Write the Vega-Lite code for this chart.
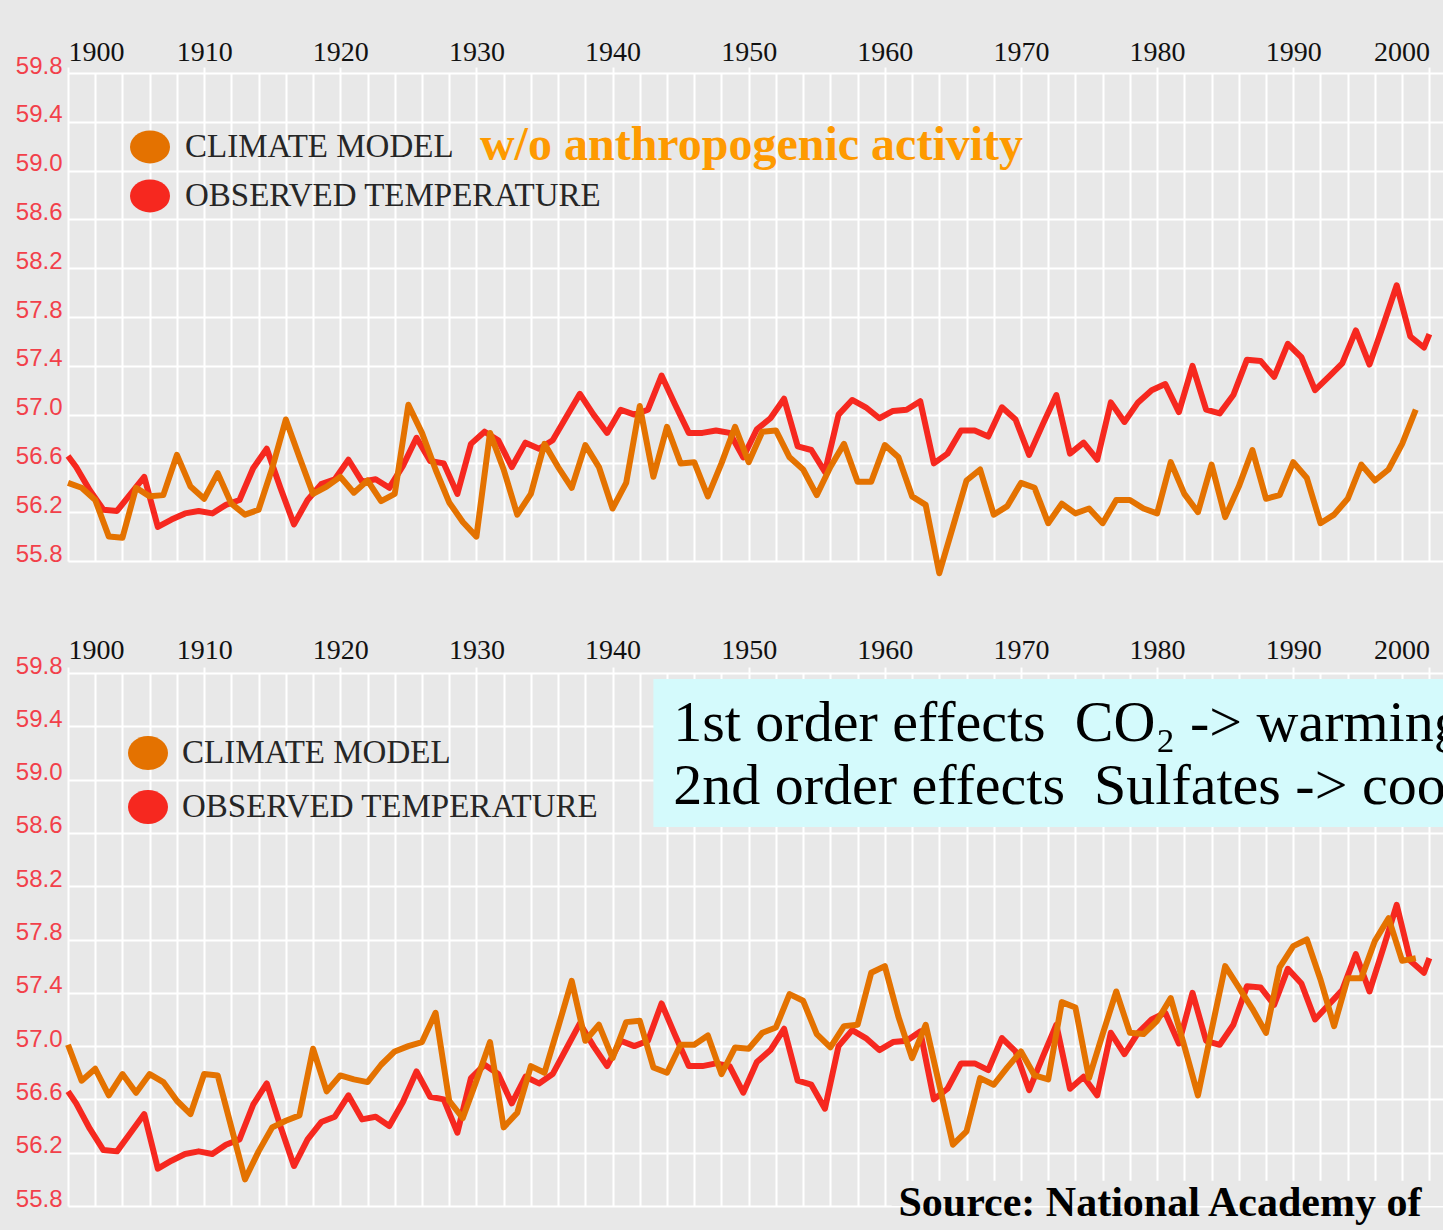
{
  "$schema": "https://vega.github.io/schema/vega-lite/v6.json",
  "background": "#e8e8e8",
  "padding": {"left": 12, "top": 33, "right": 0, "bottom": 7},
  "spacing": 56,
  "datasets": {
    "obs": [
      {"year": 1900.0, "temp": 56.66, "series": "OBSERVED TEMPERATURE"},
      {"year": 1900.6, "temp": 56.57, "series": "OBSERVED TEMPERATURE"},
      {"year": 1901.6, "temp": 56.38, "series": "OBSERVED TEMPERATURE"},
      {"year": 1902.6, "temp": 56.22, "series": "OBSERVED TEMPERATURE"},
      {"year": 1903.6, "temp": 56.21, "series": "OBSERVED TEMPERATURE"},
      {"year": 1904.6, "temp": 56.35, "series": "OBSERVED TEMPERATURE"},
      {"year": 1905.6, "temp": 56.49, "series": "OBSERVED TEMPERATURE"},
      {"year": 1906.6, "temp": 56.08, "series": "OBSERVED TEMPERATURE"},
      {"year": 1907.6, "temp": 56.14, "series": "OBSERVED TEMPERATURE"},
      {"year": 1908.6, "temp": 56.19, "series": "OBSERVED TEMPERATURE"},
      {"year": 1909.6, "temp": 56.21, "series": "OBSERVED TEMPERATURE"},
      {"year": 1910.6, "temp": 56.19, "series": "OBSERVED TEMPERATURE"},
      {"year": 1911.6, "temp": 56.26, "series": "OBSERVED TEMPERATURE"},
      {"year": 1912.6, "temp": 56.30, "series": "OBSERVED TEMPERATURE"},
      {"year": 1913.6, "temp": 56.56, "series": "OBSERVED TEMPERATURE"},
      {"year": 1914.6, "temp": 56.72, "series": "OBSERVED TEMPERATURE"},
      {"year": 1915.6, "temp": 56.40, "series": "OBSERVED TEMPERATURE"},
      {"year": 1916.6, "temp": 56.10, "series": "OBSERVED TEMPERATURE"},
      {"year": 1917.6, "temp": 56.30, "series": "OBSERVED TEMPERATURE"},
      {"year": 1918.6, "temp": 56.43, "series": "OBSERVED TEMPERATURE"},
      {"year": 1919.6, "temp": 56.47, "series": "OBSERVED TEMPERATURE"},
      {"year": 1920.6, "temp": 56.63, "series": "OBSERVED TEMPERATURE"},
      {"year": 1921.6, "temp": 56.45, "series": "OBSERVED TEMPERATURE"},
      {"year": 1922.6, "temp": 56.47, "series": "OBSERVED TEMPERATURE"},
      {"year": 1923.6, "temp": 56.40, "series": "OBSERVED TEMPERATURE"},
      {"year": 1924.6, "temp": 56.58, "series": "OBSERVED TEMPERATURE"},
      {"year": 1925.6, "temp": 56.81, "series": "OBSERVED TEMPERATURE"},
      {"year": 1926.6, "temp": 56.62, "series": "OBSERVED TEMPERATURE"},
      {"year": 1927.6, "temp": 56.60, "series": "OBSERVED TEMPERATURE"},
      {"year": 1928.6, "temp": 56.35, "series": "OBSERVED TEMPERATURE"},
      {"year": 1929.6, "temp": 56.76, "series": "OBSERVED TEMPERATURE"},
      {"year": 1930.6, "temp": 56.86, "series": "OBSERVED TEMPERATURE"},
      {"year": 1931.6, "temp": 56.79, "series": "OBSERVED TEMPERATURE"},
      {"year": 1932.6, "temp": 56.57, "series": "OBSERVED TEMPERATURE"},
      {"year": 1933.6, "temp": 56.77, "series": "OBSERVED TEMPERATURE"},
      {"year": 1934.6, "temp": 56.72, "series": "OBSERVED TEMPERATURE"},
      {"year": 1935.6, "temp": 56.79, "series": "OBSERVED TEMPERATURE"},
      {"year": 1936.6, "temp": 56.98, "series": "OBSERVED TEMPERATURE"},
      {"year": 1937.6, "temp": 57.17, "series": "OBSERVED TEMPERATURE"},
      {"year": 1938.6, "temp": 57.00, "series": "OBSERVED TEMPERATURE"},
      {"year": 1939.6, "temp": 56.85, "series": "OBSERVED TEMPERATURE"},
      {"year": 1940.6, "temp": 57.04, "series": "OBSERVED TEMPERATURE"},
      {"year": 1941.6, "temp": 57.00, "series": "OBSERVED TEMPERATURE"},
      {"year": 1942.6, "temp": 57.04, "series": "OBSERVED TEMPERATURE"},
      {"year": 1943.6, "temp": 57.32, "series": "OBSERVED TEMPERATURE"},
      {"year": 1944.6, "temp": 57.08, "series": "OBSERVED TEMPERATURE"},
      {"year": 1945.6, "temp": 56.85, "series": "OBSERVED TEMPERATURE"},
      {"year": 1946.6, "temp": 56.85, "series": "OBSERVED TEMPERATURE"},
      {"year": 1947.6, "temp": 56.87, "series": "OBSERVED TEMPERATURE"},
      {"year": 1948.6, "temp": 56.85, "series": "OBSERVED TEMPERATURE"},
      {"year": 1949.6, "temp": 56.65, "series": "OBSERVED TEMPERATURE"},
      {"year": 1950.6, "temp": 56.88, "series": "OBSERVED TEMPERATURE"},
      {"year": 1951.6, "temp": 56.97, "series": "OBSERVED TEMPERATURE"},
      {"year": 1952.6, "temp": 57.13, "series": "OBSERVED TEMPERATURE"},
      {"year": 1953.6, "temp": 56.74, "series": "OBSERVED TEMPERATURE"},
      {"year": 1954.6, "temp": 56.71, "series": "OBSERVED TEMPERATURE"},
      {"year": 1955.6, "temp": 56.53, "series": "OBSERVED TEMPERATURE"},
      {"year": 1956.6, "temp": 57.00, "series": "OBSERVED TEMPERATURE"},
      {"year": 1957.6, "temp": 57.12, "series": "OBSERVED TEMPERATURE"},
      {"year": 1958.6, "temp": 57.06, "series": "OBSERVED TEMPERATURE"},
      {"year": 1959.6, "temp": 56.97, "series": "OBSERVED TEMPERATURE"},
      {"year": 1960.6, "temp": 57.03, "series": "OBSERVED TEMPERATURE"},
      {"year": 1961.6, "temp": 57.04, "series": "OBSERVED TEMPERATURE"},
      {"year": 1962.6, "temp": 57.11, "series": "OBSERVED TEMPERATURE"},
      {"year": 1963.6, "temp": 56.60, "series": "OBSERVED TEMPERATURE"},
      {"year": 1964.6, "temp": 56.68, "series": "OBSERVED TEMPERATURE"},
      {"year": 1965.6, "temp": 56.87, "series": "OBSERVED TEMPERATURE"},
      {"year": 1966.6, "temp": 56.87, "series": "OBSERVED TEMPERATURE"},
      {"year": 1967.6, "temp": 56.82, "series": "OBSERVED TEMPERATURE"},
      {"year": 1968.6, "temp": 57.06, "series": "OBSERVED TEMPERATURE"},
      {"year": 1969.6, "temp": 56.96, "series": "OBSERVED TEMPERATURE"},
      {"year": 1970.6, "temp": 56.67, "series": "OBSERVED TEMPERATURE"},
      {"year": 1971.6, "temp": 56.92, "series": "OBSERVED TEMPERATURE"},
      {"year": 1972.6, "temp": 57.16, "series": "OBSERVED TEMPERATURE"},
      {"year": 1973.6, "temp": 56.68, "series": "OBSERVED TEMPERATURE"},
      {"year": 1974.6, "temp": 56.77, "series": "OBSERVED TEMPERATURE"},
      {"year": 1975.6, "temp": 56.63, "series": "OBSERVED TEMPERATURE"},
      {"year": 1976.6, "temp": 57.10, "series": "OBSERVED TEMPERATURE"},
      {"year": 1977.6, "temp": 56.94, "series": "OBSERVED TEMPERATURE"},
      {"year": 1978.6, "temp": 57.10, "series": "OBSERVED TEMPERATURE"},
      {"year": 1979.6, "temp": 57.20, "series": "OBSERVED TEMPERATURE"},
      {"year": 1980.6, "temp": 57.25, "series": "OBSERVED TEMPERATURE"},
      {"year": 1981.6, "temp": 57.02, "series": "OBSERVED TEMPERATURE"},
      {"year": 1982.6, "temp": 57.40, "series": "OBSERVED TEMPERATURE"},
      {"year": 1983.6, "temp": 57.04, "series": "OBSERVED TEMPERATURE"},
      {"year": 1984.6, "temp": 57.01, "series": "OBSERVED TEMPERATURE"},
      {"year": 1985.6, "temp": 57.16, "series": "OBSERVED TEMPERATURE"},
      {"year": 1986.6, "temp": 57.45, "series": "OBSERVED TEMPERATURE"},
      {"year": 1987.6, "temp": 57.44, "series": "OBSERVED TEMPERATURE"},
      {"year": 1988.6, "temp": 57.31, "series": "OBSERVED TEMPERATURE"},
      {"year": 1989.6, "temp": 57.58, "series": "OBSERVED TEMPERATURE"},
      {"year": 1990.6, "temp": 57.47, "series": "OBSERVED TEMPERATURE"},
      {"year": 1991.6, "temp": 57.20, "series": "OBSERVED TEMPERATURE"},
      {"year": 1992.6, "temp": 57.31, "series": "OBSERVED TEMPERATURE"},
      {"year": 1993.6, "temp": 57.42, "series": "OBSERVED TEMPERATURE"},
      {"year": 1994.6, "temp": 57.69, "series": "OBSERVED TEMPERATURE"},
      {"year": 1995.6, "temp": 57.41, "series": "OBSERVED TEMPERATURE"},
      {"year": 1996.6, "temp": 57.73, "series": "OBSERVED TEMPERATURE"},
      {"year": 1997.6, "temp": 58.06, "series": "OBSERVED TEMPERATURE"},
      {"year": 1998.6, "temp": 57.64, "series": "OBSERVED TEMPERATURE"},
      {"year": 1999.6, "temp": 57.55, "series": "OBSERVED TEMPERATURE"},
      {"year": 2000.0, "temp": 57.66, "series": "OBSERVED TEMPERATURE"}
    ],
    "natural": [
      {"year": 1900, "temp": 56.44, "series": "CLIMATE MODEL"},
      {"year": 1901, "temp": 56.40, "series": "CLIMATE MODEL"},
      {"year": 1902, "temp": 56.30, "series": "CLIMATE MODEL"},
      {"year": 1903, "temp": 56.00, "series": "CLIMATE MODEL"},
      {"year": 1904, "temp": 55.99, "series": "CLIMATE MODEL"},
      {"year": 1905, "temp": 56.40, "series": "CLIMATE MODEL"},
      {"year": 1906, "temp": 56.33, "series": "CLIMATE MODEL"},
      {"year": 1907, "temp": 56.34, "series": "CLIMATE MODEL"},
      {"year": 1908, "temp": 56.67, "series": "CLIMATE MODEL"},
      {"year": 1909, "temp": 56.41, "series": "CLIMATE MODEL"},
      {"year": 1910, "temp": 56.31, "series": "CLIMATE MODEL"},
      {"year": 1911, "temp": 56.52, "series": "CLIMATE MODEL"},
      {"year": 1912, "temp": 56.27, "series": "CLIMATE MODEL"},
      {"year": 1913, "temp": 56.18, "series": "CLIMATE MODEL"},
      {"year": 1914, "temp": 56.22, "series": "CLIMATE MODEL"},
      {"year": 1915, "temp": 56.56, "series": "CLIMATE MODEL"},
      {"year": 1916, "temp": 56.96, "series": "CLIMATE MODEL"},
      {"year": 1917, "temp": 56.65, "series": "CLIMATE MODEL"},
      {"year": 1918, "temp": 56.35, "series": "CLIMATE MODEL"},
      {"year": 1919, "temp": 56.41, "series": "CLIMATE MODEL"},
      {"year": 1920, "temp": 56.49, "series": "CLIMATE MODEL"},
      {"year": 1921, "temp": 56.36, "series": "CLIMATE MODEL"},
      {"year": 1922, "temp": 56.46, "series": "CLIMATE MODEL"},
      {"year": 1923, "temp": 56.29, "series": "CLIMATE MODEL"},
      {"year": 1924, "temp": 56.35, "series": "CLIMATE MODEL"},
      {"year": 1925, "temp": 57.08, "series": "CLIMATE MODEL"},
      {"year": 1926, "temp": 56.85, "series": "CLIMATE MODEL"},
      {"year": 1927, "temp": 56.55, "series": "CLIMATE MODEL"},
      {"year": 1928, "temp": 56.28, "series": "CLIMATE MODEL"},
      {"year": 1929, "temp": 56.12, "series": "CLIMATE MODEL"},
      {"year": 1930, "temp": 56.00, "series": "CLIMATE MODEL"},
      {"year": 1931, "temp": 56.85, "series": "CLIMATE MODEL"},
      {"year": 1932, "temp": 56.55, "series": "CLIMATE MODEL"},
      {"year": 1933, "temp": 56.18, "series": "CLIMATE MODEL"},
      {"year": 1934, "temp": 56.35, "series": "CLIMATE MODEL"},
      {"year": 1935, "temp": 56.76, "series": "CLIMATE MODEL"},
      {"year": 1936, "temp": 56.57, "series": "CLIMATE MODEL"},
      {"year": 1937, "temp": 56.40, "series": "CLIMATE MODEL"},
      {"year": 1938, "temp": 56.75, "series": "CLIMATE MODEL"},
      {"year": 1939, "temp": 56.57, "series": "CLIMATE MODEL"},
      {"year": 1940, "temp": 56.23, "series": "CLIMATE MODEL"},
      {"year": 1941, "temp": 56.44, "series": "CLIMATE MODEL"},
      {"year": 1942, "temp": 57.07, "series": "CLIMATE MODEL"},
      {"year": 1943, "temp": 56.49, "series": "CLIMATE MODEL"},
      {"year": 1944, "temp": 56.90, "series": "CLIMATE MODEL"},
      {"year": 1945, "temp": 56.60, "series": "CLIMATE MODEL"},
      {"year": 1946, "temp": 56.61, "series": "CLIMATE MODEL"},
      {"year": 1947, "temp": 56.33, "series": "CLIMATE MODEL"},
      {"year": 1948, "temp": 56.60, "series": "CLIMATE MODEL"},
      {"year": 1949, "temp": 56.90, "series": "CLIMATE MODEL"},
      {"year": 1950, "temp": 56.61, "series": "CLIMATE MODEL"},
      {"year": 1951, "temp": 56.86, "series": "CLIMATE MODEL"},
      {"year": 1952, "temp": 56.87, "series": "CLIMATE MODEL"},
      {"year": 1953, "temp": 56.65, "series": "CLIMATE MODEL"},
      {"year": 1954, "temp": 56.55, "series": "CLIMATE MODEL"},
      {"year": 1955, "temp": 56.34, "series": "CLIMATE MODEL"},
      {"year": 1956, "temp": 56.57, "series": "CLIMATE MODEL"},
      {"year": 1957, "temp": 56.76, "series": "CLIMATE MODEL"},
      {"year": 1958, "temp": 56.45, "series": "CLIMATE MODEL"},
      {"year": 1959, "temp": 56.45, "series": "CLIMATE MODEL"},
      {"year": 1960, "temp": 56.75, "series": "CLIMATE MODEL"},
      {"year": 1961, "temp": 56.65, "series": "CLIMATE MODEL"},
      {"year": 1962, "temp": 56.33, "series": "CLIMATE MODEL"},
      {"year": 1963, "temp": 56.26, "series": "CLIMATE MODEL"},
      {"year": 1964, "temp": 55.70, "series": "CLIMATE MODEL"},
      {"year": 1965, "temp": 56.08, "series": "CLIMATE MODEL"},
      {"year": 1966, "temp": 56.46, "series": "CLIMATE MODEL"},
      {"year": 1967, "temp": 56.55, "series": "CLIMATE MODEL"},
      {"year": 1968, "temp": 56.18, "series": "CLIMATE MODEL"},
      {"year": 1969, "temp": 56.25, "series": "CLIMATE MODEL"},
      {"year": 1970, "temp": 56.44, "series": "CLIMATE MODEL"},
      {"year": 1971, "temp": 56.40, "series": "CLIMATE MODEL"},
      {"year": 1972, "temp": 56.11, "series": "CLIMATE MODEL"},
      {"year": 1973, "temp": 56.27, "series": "CLIMATE MODEL"},
      {"year": 1974, "temp": 56.19, "series": "CLIMATE MODEL"},
      {"year": 1975, "temp": 56.23, "series": "CLIMATE MODEL"},
      {"year": 1976, "temp": 56.11, "series": "CLIMATE MODEL"},
      {"year": 1977, "temp": 56.30, "series": "CLIMATE MODEL"},
      {"year": 1978, "temp": 56.30, "series": "CLIMATE MODEL"},
      {"year": 1979, "temp": 56.23, "series": "CLIMATE MODEL"},
      {"year": 1980, "temp": 56.19, "series": "CLIMATE MODEL"},
      {"year": 1981, "temp": 56.61, "series": "CLIMATE MODEL"},
      {"year": 1982, "temp": 56.35, "series": "CLIMATE MODEL"},
      {"year": 1983, "temp": 56.20, "series": "CLIMATE MODEL"},
      {"year": 1984, "temp": 56.59, "series": "CLIMATE MODEL"},
      {"year": 1985, "temp": 56.16, "series": "CLIMATE MODEL"},
      {"year": 1986, "temp": 56.41, "series": "CLIMATE MODEL"},
      {"year": 1987, "temp": 56.71, "series": "CLIMATE MODEL"},
      {"year": 1988, "temp": 56.31, "series": "CLIMATE MODEL"},
      {"year": 1989, "temp": 56.34, "series": "CLIMATE MODEL"},
      {"year": 1990, "temp": 56.61, "series": "CLIMATE MODEL"},
      {"year": 1991, "temp": 56.48, "series": "CLIMATE MODEL"},
      {"year": 1992, "temp": 56.11, "series": "CLIMATE MODEL"},
      {"year": 1993, "temp": 56.18, "series": "CLIMATE MODEL"},
      {"year": 1994, "temp": 56.31, "series": "CLIMATE MODEL"},
      {"year": 1995, "temp": 56.59, "series": "CLIMATE MODEL"},
      {"year": 1996, "temp": 56.46, "series": "CLIMATE MODEL"},
      {"year": 1997, "temp": 56.55, "series": "CLIMATE MODEL"},
      {"year": 1998, "temp": 56.76, "series": "CLIMATE MODEL"},
      {"year": 1999, "temp": 57.04, "series": "CLIMATE MODEL"}
    ],
    "combined": [
      {"year": 1900, "temp": 57.01, "series": "CLIMATE MODEL"},
      {"year": 1901, "temp": 56.74, "series": "CLIMATE MODEL"},
      {"year": 1902, "temp": 56.83, "series": "CLIMATE MODEL"},
      {"year": 1903, "temp": 56.63, "series": "CLIMATE MODEL"},
      {"year": 1904, "temp": 56.79, "series": "CLIMATE MODEL"},
      {"year": 1905, "temp": 56.65, "series": "CLIMATE MODEL"},
      {"year": 1906, "temp": 56.79, "series": "CLIMATE MODEL"},
      {"year": 1907, "temp": 56.73, "series": "CLIMATE MODEL"},
      {"year": 1908, "temp": 56.59, "series": "CLIMATE MODEL"},
      {"year": 1909, "temp": 56.49, "series": "CLIMATE MODEL"},
      {"year": 1910, "temp": 56.79, "series": "CLIMATE MODEL"},
      {"year": 1911, "temp": 56.78, "series": "CLIMATE MODEL"},
      {"year": 1912, "temp": 56.39, "series": "CLIMATE MODEL"},
      {"year": 1913, "temp": 56.00, "series": "CLIMATE MODEL"},
      {"year": 1914, "temp": 56.21, "series": "CLIMATE MODEL"},
      {"year": 1915, "temp": 56.39, "series": "CLIMATE MODEL"},
      {"year": 1916, "temp": 56.44, "series": "CLIMATE MODEL"},
      {"year": 1917, "temp": 56.48, "series": "CLIMATE MODEL"},
      {"year": 1918, "temp": 56.98, "series": "CLIMATE MODEL"},
      {"year": 1919, "temp": 56.66, "series": "CLIMATE MODEL"},
      {"year": 1920, "temp": 56.78, "series": "CLIMATE MODEL"},
      {"year": 1921, "temp": 56.75, "series": "CLIMATE MODEL"},
      {"year": 1922, "temp": 56.73, "series": "CLIMATE MODEL"},
      {"year": 1923, "temp": 56.86, "series": "CLIMATE MODEL"},
      {"year": 1924, "temp": 56.96, "series": "CLIMATE MODEL"},
      {"year": 1925, "temp": 57.00, "series": "CLIMATE MODEL"},
      {"year": 1926, "temp": 57.03, "series": "CLIMATE MODEL"},
      {"year": 1927, "temp": 57.25, "series": "CLIMATE MODEL"},
      {"year": 1928, "temp": 56.59, "series": "CLIMATE MODEL"},
      {"year": 1929, "temp": 56.46, "series": "CLIMATE MODEL"},
      {"year": 1930, "temp": 56.74, "series": "CLIMATE MODEL"},
      {"year": 1931, "temp": 57.03, "series": "CLIMATE MODEL"},
      {"year": 1932, "temp": 56.39, "series": "CLIMATE MODEL"},
      {"year": 1933, "temp": 56.50, "series": "CLIMATE MODEL"},
      {"year": 1934, "temp": 56.85, "series": "CLIMATE MODEL"},
      {"year": 1935, "temp": 56.80, "series": "CLIMATE MODEL"},
      {"year": 1936, "temp": 57.14, "series": "CLIMATE MODEL"},
      {"year": 1937, "temp": 57.49, "series": "CLIMATE MODEL"},
      {"year": 1938, "temp": 57.04, "series": "CLIMATE MODEL"},
      {"year": 1939, "temp": 57.16, "series": "CLIMATE MODEL"},
      {"year": 1940, "temp": 56.91, "series": "CLIMATE MODEL"},
      {"year": 1941, "temp": 57.18, "series": "CLIMATE MODEL"},
      {"year": 1942, "temp": 57.19, "series": "CLIMATE MODEL"},
      {"year": 1943, "temp": 56.84, "series": "CLIMATE MODEL"},
      {"year": 1944, "temp": 56.80, "series": "CLIMATE MODEL"},
      {"year": 1945, "temp": 57.01, "series": "CLIMATE MODEL"},
      {"year": 1946, "temp": 57.01, "series": "CLIMATE MODEL"},
      {"year": 1947, "temp": 57.08, "series": "CLIMATE MODEL"},
      {"year": 1948, "temp": 56.79, "series": "CLIMATE MODEL"},
      {"year": 1949, "temp": 56.99, "series": "CLIMATE MODEL"},
      {"year": 1950, "temp": 56.98, "series": "CLIMATE MODEL"},
      {"year": 1951, "temp": 57.10, "series": "CLIMATE MODEL"},
      {"year": 1952, "temp": 57.14, "series": "CLIMATE MODEL"},
      {"year": 1953, "temp": 57.39, "series": "CLIMATE MODEL"},
      {"year": 1954, "temp": 57.34, "series": "CLIMATE MODEL"},
      {"year": 1955, "temp": 57.09, "series": "CLIMATE MODEL"},
      {"year": 1956, "temp": 56.99, "series": "CLIMATE MODEL"},
      {"year": 1957, "temp": 57.15, "series": "CLIMATE MODEL"},
      {"year": 1958, "temp": 57.16, "series": "CLIMATE MODEL"},
      {"year": 1959, "temp": 57.55, "series": "CLIMATE MODEL"},
      {"year": 1960, "temp": 57.60, "series": "CLIMATE MODEL"},
      {"year": 1961, "temp": 57.22, "series": "CLIMATE MODEL"},
      {"year": 1962, "temp": 56.91, "series": "CLIMATE MODEL"},
      {"year": 1963, "temp": 57.16, "series": "CLIMATE MODEL"},
      {"year": 1964, "temp": 56.71, "series": "CLIMATE MODEL"},
      {"year": 1965, "temp": 56.26, "series": "CLIMATE MODEL"},
      {"year": 1966, "temp": 56.36, "series": "CLIMATE MODEL"},
      {"year": 1967, "temp": 56.76, "series": "CLIMATE MODEL"},
      {"year": 1968, "temp": 56.71, "series": "CLIMATE MODEL"},
      {"year": 1969, "temp": 56.84, "series": "CLIMATE MODEL"},
      {"year": 1970, "temp": 56.96, "series": "CLIMATE MODEL"},
      {"year": 1971, "temp": 56.78, "series": "CLIMATE MODEL"},
      {"year": 1972, "temp": 56.75, "series": "CLIMATE MODEL"},
      {"year": 1973, "temp": 57.33, "series": "CLIMATE MODEL"},
      {"year": 1974, "temp": 57.29, "series": "CLIMATE MODEL"},
      {"year": 1975, "temp": 56.76, "series": "CLIMATE MODEL"},
      {"year": 1976, "temp": 57.09, "series": "CLIMATE MODEL"},
      {"year": 1977, "temp": 57.41, "series": "CLIMATE MODEL"},
      {"year": 1978, "temp": 57.10, "series": "CLIMATE MODEL"},
      {"year": 1979, "temp": 57.09, "series": "CLIMATE MODEL"},
      {"year": 1980, "temp": 57.19, "series": "CLIMATE MODEL"},
      {"year": 1981, "temp": 57.36, "series": "CLIMATE MODEL"},
      {"year": 1982, "temp": 57.00, "series": "CLIMATE MODEL"},
      {"year": 1983, "temp": 56.63, "series": "CLIMATE MODEL"},
      {"year": 1984, "temp": 57.12, "series": "CLIMATE MODEL"},
      {"year": 1985, "temp": 57.60, "series": "CLIMATE MODEL"},
      {"year": 1986, "temp": 57.44, "series": "CLIMATE MODEL"},
      {"year": 1987, "temp": 57.28, "series": "CLIMATE MODEL"},
      {"year": 1988, "temp": 57.10, "series": "CLIMATE MODEL"},
      {"year": 1989, "temp": 57.59, "series": "CLIMATE MODEL"},
      {"year": 1990, "temp": 57.75, "series": "CLIMATE MODEL"},
      {"year": 1991, "temp": 57.80, "series": "CLIMATE MODEL"},
      {"year": 1992, "temp": 57.50, "series": "CLIMATE MODEL"},
      {"year": 1993, "temp": 57.15, "series": "CLIMATE MODEL"},
      {"year": 1994, "temp": 57.51, "series": "CLIMATE MODEL"},
      {"year": 1995, "temp": 57.51, "series": "CLIMATE MODEL"},
      {"year": 1996, "temp": 57.79, "series": "CLIMATE MODEL"},
      {"year": 1997, "temp": 57.96, "series": "CLIMATE MODEL"},
      {"year": 1998, "temp": 57.64, "series": "CLIMATE MODEL"},
      {"year": 1999, "temp": 57.66, "series": "CLIMATE MODEL"}
    ]
  },
  "vconcat": [
    {
      "width": 1375,
      "height": 488,
      "layer": [
        {
          "data": {"name": "obs"},
          "mark": {"type": "line", "clip": false, "strokeWidth": 6, "strokeJoin": "round"},
          "encoding": {
            "x": {"field": "year", "type": "quantitative", "scale": {"domain": [1900, 2001], "nice": false, "zero": false},
              "axis": {"orient": "top", "title": null, "values": [1900,1902,1904,1906,1908,1910,1912,1914,1916,1918,1920,1922,1924,1926,1928,1930,1932,1934,1936,1938,1940,1942,1944,1946,1948,1950,1952,1954,1956,1958,1960,1962,1964,1966,1968,1970,1972,1974,1976,1978,1980,1982,1984,1986,1988,1990,1992,1994,1996,1998,2000], "labelExpr": "datum.value % 10 === 0 ? format(datum.value, 'd') : ''", "grid": true, "gridColor": "#ffffff", "gridWidth": 2, "domain": false, "ticks": true, "tickSize": 6, "tickWidth": 2, "tickColor": {"condition": {"test": "datum.value % 10 === 0", "value": "#ffffff"}, "value": "rgba(0,0,0,0)"}, "labelFont": "Liberation Serif", "labelFontSize": 28, "labelColor": "#111111", "labelBaseline": "alphabetic", "labelPadding": 7, "labelFlush": 20, "labelOverlap": false, "minExtent": 40, "maxExtent": 40}},
            "y": {"field": "temp", "type": "quantitative", "scale": {"domain": [55.8, 59.8], "nice": false, "zero": false},
              "axis": {"title": null, "values": [55.8, 56.2, 56.6, 57.0, 57.4, 57.8, 58.2, 58.6, 59.0, 59.4, 59.8], "format": ".1f", "grid": true, "gridColor": "#ffffff", "gridWidth": 2, "domain": false, "ticks": false, "labelFont": "Liberation Sans", "labelFontSize": 24, "labelColor": "#f2404a", "labelBaseline": "alphabetic", "labelPadding": 6, "labelFlush": false, "labelOverlap": false, "minExtent": 56, "maxExtent": 56}},
            "color": {"field": "series", "type": "nominal",
              "scale": {"domain": ["CLIMATE MODEL", "OBSERVED TEMPERATURE"], "range": ["#e47200", "#f6281f"]},
              "legend": {"orient": "none", "legendX": 62, "legendY": 54, "title": null, "direction": "vertical",
                "symbolType": "M-1,0A1,0.82,0,1,0,1,0A1,0.82,0,1,0,-1,0Z", "symbolSize": 1600,
                "labelFont": "Liberation Serif", "labelFontSize": 33, "labelColor": "#262626", "labelOffset": 15, "labelLimit": 800,
                "rowPadding": 12, "padding": 0,
                "encode": {"symbols": {"update": {"fill": {"signal": "datum.value === 'CLIMATE MODEL' ? '#e47200' : '#f6281f'"}, "stroke": {"value": "transparent"}, "strokeWidth": {"value": 0}, "opacity": {"value": 1}}}}}}
          }
        },
        {
          "data": {"name": "natural"},
          "mark": {"type": "line", "clip": false, "strokeWidth": 6, "strokeJoin": "round"},
          "encoding": {
            "x": {"field": "year", "type": "quantitative",
              "axis": {"orient": "top", "title": null, "values": [1900,1902,1904,1906,1908,1910,1912,1914,1916,1918,1920,1922,1924,1926,1928,1930,1932,1934,1936,1938,1940,1942,1944,1946,1948,1950,1952,1954,1956,1958,1960,1962,1964,1966,1968,1970,1972,1974,1976,1978,1980,1982,1984,1986,1988,1990,1992,1994,1996,1998,2000], "labelExpr": "datum.value % 10 === 0 ? format(datum.value, 'd') : ''", "grid": true, "gridColor": "#ffffff", "gridWidth": 2, "domain": false, "ticks": true, "tickSize": 6, "tickWidth": 2, "tickColor": {"condition": {"test": "datum.value % 10 === 0", "value": "#ffffff"}, "value": "rgba(0,0,0,0)"}, "labelFont": "Liberation Serif", "labelFontSize": 28, "labelColor": "#111111", "labelBaseline": "alphabetic", "labelPadding": 7, "labelFlush": 20, "labelOverlap": false, "minExtent": 40, "maxExtent": 40}},
            "y": {"field": "temp", "type": "quantitative",
              "axis": {"title": null, "values": [55.8, 56.2, 56.6, 57.0, 57.4, 57.8, 58.2, 58.6, 59.0, 59.4, 59.8], "format": ".1f", "grid": true, "gridColor": "#ffffff", "gridWidth": 2, "domain": false, "ticks": false, "labelFont": "Liberation Sans", "labelFontSize": 24, "labelColor": "#f2404a", "labelBaseline": "alphabetic", "labelPadding": 6, "labelFlush": false, "labelOverlap": false, "minExtent": 56, "maxExtent": 56}},
            "color": {"field": "series", "type": "nominal"}
          }
        },
        {
          "data": {"values": [{"note": "w/o anthropogenic activity"}]},
          "mark": {"type": "text", "font": "Liberation Serif", "fontWeight": "bold", "fontSize": 48, "color": "#fe9a00", "align": "left", "baseline": "alphabetic"},
          "encoding": {
            "x": {"datum": 1930.26, "type": "quantitative",
              "axis": {"orient": "top", "title": null, "values": [1900,1902,1904,1906,1908,1910,1912,1914,1916,1918,1920,1922,1924,1926,1928,1930,1932,1934,1936,1938,1940,1942,1944,1946,1948,1950,1952,1954,1956,1958,1960,1962,1964,1966,1968,1970,1972,1974,1976,1978,1980,1982,1984,1986,1988,1990,1992,1994,1996,1998,2000], "labelExpr": "datum.value % 10 === 0 ? format(datum.value, 'd') : ''", "grid": true, "gridColor": "#ffffff", "gridWidth": 2, "domain": false, "ticks": true, "tickSize": 6, "tickWidth": 2, "tickColor": {"condition": {"test": "datum.value % 10 === 0", "value": "#ffffff"}, "value": "rgba(0,0,0,0)"}, "labelFont": "Liberation Serif", "labelFontSize": 28, "labelColor": "#111111", "labelBaseline": "alphabetic", "labelPadding": 7, "labelFlush": 20, "labelOverlap": false, "minExtent": 40, "maxExtent": 40}},
            "y": {"datum": 59.087, "type": "quantitative",
              "axis": {"title": null, "values": [55.8, 56.2, 56.6, 57.0, 57.4, 57.8, 58.2, 58.6, 59.0, 59.4, 59.8], "format": ".1f", "grid": true, "gridColor": "#ffffff", "gridWidth": 2, "domain": false, "ticks": false, "labelFont": "Liberation Sans", "labelFontSize": 24, "labelColor": "#f2404a", "labelBaseline": "alphabetic", "labelPadding": 6, "labelFlush": false, "labelOverlap": false, "minExtent": 56, "maxExtent": 56}},
            "text": {"field": "note", "type": "nominal"}}
        }
      ]
    },
    {
      "width": 1375,
      "height": 533,
      "layer": [
        {
          "data": {"values": [{"box": "co2"}]},
          "mark": {"type": "rect", "clip": true, "color": "#d4fafc"},
          "encoding": {
            "x": {"datum": 1943.0, "type": "quantitative",
              "axis": {"orient": "top", "title": null, "values": [1900,1902,1904,1906,1908,1910,1912,1914,1916,1918,1920,1922,1924,1926,1928,1930,1932,1934,1936,1938,1940,1942,1944,1946,1948,1950,1952,1954,1956,1958,1960,1962,1964,1966,1968,1970,1972,1974,1976,1978,1980,1982,1984,1986,1988,1990,1992,1994,1996,1998,2000], "labelExpr": "datum.value % 10 === 0 ? format(datum.value, 'd') : ''", "grid": true, "gridColor": "#ffffff", "gridWidth": 2, "domain": false, "ticks": true, "tickSize": 6, "tickWidth": 2, "tickColor": {"condition": {"test": "datum.value % 10 === 0", "value": "#ffffff"}, "value": "rgba(0,0,0,0)"}, "labelFont": "Liberation Serif", "labelFontSize": 28, "labelColor": "#111111", "labelBaseline": "alphabetic", "labelPadding": 9, "labelFlush": 20, "labelOverlap": false, "minExtent": 40, "maxExtent": 40}},
            "x2": {"datum": 2001},
            "y": {"datum": 59.755, "type": "quantitative",
              "axis": {"title": null, "values": [55.8, 56.2, 56.6, 57.0, 57.4, 57.8, 58.2, 58.6, 59.0, 59.4, 59.8], "format": ".1f", "grid": true, "gridColor": "#ffffff", "gridWidth": 2, "domain": false, "ticks": false, "labelFont": "Liberation Sans", "labelFontSize": 24, "labelColor": "#f2404a", "labelBaseline": "alphabetic", "labelPadding": 6, "labelFlush": false, "labelOverlap": false, "minExtent": 56, "maxExtent": 56}},
            "y2": {"datum": 58.644}}
        },
        {
          "data": {"values": [{"note": "1st order effects\u00a0 CO\u2082 -> warming"}]},
          "mark": {"type": "text", "clip": true, "font": "Liberation Serif", "fontSize": 58, "color": "#000000", "align": "left", "baseline": "alphabetic"},
          "encoding": {
            "x": {"datum": 1944.45, "type": "quantitative",
              "axis": {"orient": "top", "title": null, "values": [1900,1902,1904,1906,1908,1910,1912,1914,1916,1918,1920,1922,1924,1926,1928,1930,1932,1934,1936,1938,1940,1942,1944,1946,1948,1950,1952,1954,1956,1958,1960,1962,1964,1966,1968,1970,1972,1974,1976,1978,1980,1982,1984,1986,1988,1990,1992,1994,1996,1998,2000], "labelExpr": "datum.value % 10 === 0 ? format(datum.value, 'd') : ''", "grid": true, "gridColor": "#ffffff", "gridWidth": 2, "domain": false, "ticks": true, "tickSize": 6, "tickWidth": 2, "tickColor": {"condition": {"test": "datum.value % 10 === 0", "value": "#ffffff"}, "value": "rgba(0,0,0,0)"}, "labelFont": "Liberation Serif", "labelFontSize": 28, "labelColor": "#111111", "labelBaseline": "alphabetic", "labelPadding": 9, "labelFlush": 20, "labelOverlap": false, "minExtent": 40, "maxExtent": 40}},
            "y": {"datum": 59.29, "type": "quantitative",
              "axis": {"title": null, "values": [55.8, 56.2, 56.6, 57.0, 57.4, 57.8, 58.2, 58.6, 59.0, 59.4, 59.8], "format": ".1f", "grid": true, "gridColor": "#ffffff", "gridWidth": 2, "domain": false, "ticks": false, "labelFont": "Liberation Sans", "labelFontSize": 24, "labelColor": "#f2404a", "labelBaseline": "alphabetic", "labelPadding": 6, "labelFlush": false, "labelOverlap": false, "minExtent": 56, "maxExtent": 56}},
            "text": {"field": "note", "type": "nominal"}}
        },
        {
          "data": {"values": [{"note": "2nd order effects\u00a0 Sulfates -> cooling"}]},
          "mark": {"type": "text", "clip": true, "font": "Liberation Serif", "fontSize": 58, "color": "#000000", "align": "left", "baseline": "alphabetic"},
          "encoding": {
            "x": {"datum": 1944.45, "type": "quantitative",
              "axis": {"orient": "top", "title": null, "values": [1900,1902,1904,1906,1908,1910,1912,1914,1916,1918,1920,1922,1924,1926,1928,1930,1932,1934,1936,1938,1940,1942,1944,1946,1948,1950,1952,1954,1956,1958,1960,1962,1964,1966,1968,1970,1972,1974,1976,1978,1980,1982,1984,1986,1988,1990,1992,1994,1996,1998,2000], "labelExpr": "datum.value % 10 === 0 ? format(datum.value, 'd') : ''", "grid": true, "gridColor": "#ffffff", "gridWidth": 2, "domain": false, "ticks": true, "tickSize": 6, "tickWidth": 2, "tickColor": {"condition": {"test": "datum.value % 10 === 0", "value": "#ffffff"}, "value": "rgba(0,0,0,0)"}, "labelFont": "Liberation Serif", "labelFontSize": 28, "labelColor": "#111111", "labelBaseline": "alphabetic", "labelPadding": 9, "labelFlush": 20, "labelOverlap": false, "minExtent": 40, "maxExtent": 40}},
            "y": {"datum": 58.815, "type": "quantitative",
              "axis": {"title": null, "values": [55.8, 56.2, 56.6, 57.0, 57.4, 57.8, 58.2, 58.6, 59.0, 59.4, 59.8], "format": ".1f", "grid": true, "gridColor": "#ffffff", "gridWidth": 2, "domain": false, "ticks": false, "labelFont": "Liberation Sans", "labelFontSize": 24, "labelColor": "#f2404a", "labelBaseline": "alphabetic", "labelPadding": 6, "labelFlush": false, "labelOverlap": false, "minExtent": 56, "maxExtent": 56}},
            "text": {"field": "note", "type": "nominal"}}
        },
        {
          "data": {"values": [{"box": "source"}]},
          "mark": {"type": "rect", "clip": true, "color": "#e8e8e8"},
          "encoding": {
            "x": {"datum": 1960.5, "type": "quantitative",
              "axis": {"orient": "top", "title": null, "values": [1900,1902,1904,1906,1908,1910,1912,1914,1916,1918,1920,1922,1924,1926,1928,1930,1932,1934,1936,1938,1940,1942,1944,1946,1948,1950,1952,1954,1956,1958,1960,1962,1964,1966,1968,1970,1972,1974,1976,1978,1980,1982,1984,1986,1988,1990,1992,1994,1996,1998,2000], "labelExpr": "datum.value % 10 === 0 ? format(datum.value, 'd') : ''", "grid": true, "gridColor": "#ffffff", "gridWidth": 2, "domain": false, "ticks": true, "tickSize": 6, "tickWidth": 2, "tickColor": {"condition": {"test": "datum.value % 10 === 0", "value": "#ffffff"}, "value": "rgba(0,0,0,0)"}, "labelFont": "Liberation Serif", "labelFontSize": 28, "labelColor": "#111111", "labelBaseline": "alphabetic", "labelPadding": 9, "labelFlush": 20, "labelOverlap": false, "minExtent": 40, "maxExtent": 40}},
            "x2": {"datum": 2001},
            "y": {"datum": 55.99, "type": "quantitative",
              "axis": {"title": null, "values": [55.8, 56.2, 56.6, 57.0, 57.4, 57.8, 58.2, 58.6, 59.0, 59.4, 59.8], "format": ".1f", "grid": true, "gridColor": "#ffffff", "gridWidth": 2, "domain": false, "ticks": false, "labelFont": "Liberation Sans", "labelFontSize": 24, "labelColor": "#f2404a", "labelBaseline": "alphabetic", "labelPadding": 6, "labelFlush": false, "labelOverlap": false, "minExtent": 56, "maxExtent": 56}},
            "y2": {"datum": 55.6}}
        },
        {
          "data": {"name": "obs"},
          "mark": {"type": "line", "clip": false, "strokeWidth": 6, "strokeJoin": "round"},
          "encoding": {
            "x": {"field": "year", "type": "quantitative", "scale": {"domain": [1900, 2001], "nice": false, "zero": false},
              "axis": {"orient": "top", "title": null, "values": [1900,1902,1904,1906,1908,1910,1912,1914,1916,1918,1920,1922,1924,1926,1928,1930,1932,1934,1936,1938,1940,1942,1944,1946,1948,1950,1952,1954,1956,1958,1960,1962,1964,1966,1968,1970,1972,1974,1976,1978,1980,1982,1984,1986,1988,1990,1992,1994,1996,1998,2000], "labelExpr": "datum.value % 10 === 0 ? format(datum.value, 'd') : ''", "grid": true, "gridColor": "#ffffff", "gridWidth": 2, "domain": false, "ticks": true, "tickSize": 6, "tickWidth": 2, "tickColor": {"condition": {"test": "datum.value % 10 === 0", "value": "#ffffff"}, "value": "rgba(0,0,0,0)"}, "labelFont": "Liberation Serif", "labelFontSize": 28, "labelColor": "#111111", "labelBaseline": "alphabetic", "labelPadding": 9, "labelFlush": 20, "labelOverlap": false, "minExtent": 40, "maxExtent": 40}},
            "y": {"field": "temp", "type": "quantitative", "scale": {"domain": [55.8, 59.8], "nice": false, "zero": false},
              "axis": {"title": null, "values": [55.8, 56.2, 56.6, 57.0, 57.4, 57.8, 58.2, 58.6, 59.0, 59.4, 59.8], "format": ".1f", "grid": true, "gridColor": "#ffffff", "gridWidth": 2, "domain": false, "ticks": false, "labelFont": "Liberation Sans", "labelFontSize": 24, "labelColor": "#f2404a", "labelBaseline": "alphabetic", "labelPadding": 6, "labelFlush": false, "labelOverlap": false, "minExtent": 56, "maxExtent": 56}},
            "color": {"field": "series", "type": "nominal",
              "scale": {"domain": ["CLIMATE MODEL", "OBSERVED TEMPERATURE"], "range": ["#e47200", "#f6281f"]},
              "legend": {"orient": "none", "legendX": 60, "legendY": 60, "title": null, "direction": "vertical",
                "symbolType": "M-1,0A1,0.85,0,1,0,1,0A1,0.85,0,1,0,-1,0Z", "symbolSize": 1600,
                "labelFont": "Liberation Serif", "labelFontSize": 33, "labelColor": "#262626", "labelOffset": 14, "labelLimit": 800,
                "rowPadding": 17, "padding": 0,
                "encode": {"symbols": {"update": {"fill": {"signal": "datum.value === 'CLIMATE MODEL' ? '#e47200' : '#f6281f'"}, "stroke": {"value": "transparent"}, "strokeWidth": {"value": 0}, "opacity": {"value": 1}}}}}}
          }
        },
        {
          "data": {"name": "combined"},
          "mark": {"type": "line", "clip": false, "strokeWidth": 6, "strokeJoin": "round"},
          "encoding": {
            "x": {"field": "year", "type": "quantitative",
              "axis": {"orient": "top", "title": null, "values": [1900,1902,1904,1906,1908,1910,1912,1914,1916,1918,1920,1922,1924,1926,1928,1930,1932,1934,1936,1938,1940,1942,1944,1946,1948,1950,1952,1954,1956,1958,1960,1962,1964,1966,1968,1970,1972,1974,1976,1978,1980,1982,1984,1986,1988,1990,1992,1994,1996,1998,2000], "labelExpr": "datum.value % 10 === 0 ? format(datum.value, 'd') : ''", "grid": true, "gridColor": "#ffffff", "gridWidth": 2, "domain": false, "ticks": true, "tickSize": 6, "tickWidth": 2, "tickColor": {"condition": {"test": "datum.value % 10 === 0", "value": "#ffffff"}, "value": "rgba(0,0,0,0)"}, "labelFont": "Liberation Serif", "labelFontSize": 28, "labelColor": "#111111", "labelBaseline": "alphabetic", "labelPadding": 9, "labelFlush": 20, "labelOverlap": false, "minExtent": 40, "maxExtent": 40}},
            "y": {"field": "temp", "type": "quantitative",
              "axis": {"title": null, "values": [55.8, 56.2, 56.6, 57.0, 57.4, 57.8, 58.2, 58.6, 59.0, 59.4, 59.8], "format": ".1f", "grid": true, "gridColor": "#ffffff", "gridWidth": 2, "domain": false, "ticks": false, "labelFont": "Liberation Sans", "labelFontSize": 24, "labelColor": "#f2404a", "labelBaseline": "alphabetic", "labelPadding": 6, "labelFlush": false, "labelOverlap": false, "minExtent": 56, "maxExtent": 56}},
            "color": {"field": "series", "type": "nominal"}
          }
        },
        {
          "data": {"values": [{"note": "Source: National Academy of"}]},
          "mark": {"type": "text", "font": "Liberation Serif", "fontWeight": "bold", "fontSize": 42, "color": "#000000", "align": "left", "baseline": "alphabetic"},
          "encoding": {
            "x": {"datum": 1961.0, "type": "quantitative",
              "axis": {"orient": "top", "title": null, "values": [1900,1902,1904,1906,1908,1910,1912,1914,1916,1918,1920,1922,1924,1926,1928,1930,1932,1934,1936,1938,1940,1942,1944,1946,1948,1950,1952,1954,1956,1958,1960,1962,1964,1966,1968,1970,1972,1974,1976,1978,1980,1982,1984,1986,1988,1990,1992,1994,1996,1998,2000], "labelExpr": "datum.value % 10 === 0 ? format(datum.value, 'd') : ''", "grid": true, "gridColor": "#ffffff", "gridWidth": 2, "domain": false, "ticks": true, "tickSize": 6, "tickWidth": 2, "tickColor": {"condition": {"test": "datum.value % 10 === 0", "value": "#ffffff"}, "value": "rgba(0,0,0,0)"}, "labelFont": "Liberation Serif", "labelFontSize": 28, "labelColor": "#111111", "labelBaseline": "alphabetic", "labelPadding": 9, "labelFlush": 20, "labelOverlap": false, "minExtent": 40, "maxExtent": 40}},
            "y": {"datum": 55.725, "type": "quantitative",
              "axis": {"title": null, "values": [55.8, 56.2, 56.6, 57.0, 57.4, 57.8, 58.2, 58.6, 59.0, 59.4, 59.8], "format": ".1f", "grid": true, "gridColor": "#ffffff", "gridWidth": 2, "domain": false, "ticks": false, "labelFont": "Liberation Sans", "labelFontSize": 24, "labelColor": "#f2404a", "labelBaseline": "alphabetic", "labelPadding": 6, "labelFlush": false, "labelOverlap": false, "minExtent": 56, "maxExtent": 56}},
            "text": {"field": "note", "type": "nominal"}}
        }
      ]
    }
  ],
  "resolve": {"scale": {"x": "independent", "y": "independent", "color": "independent"}, "legend": {"color": "independent"}},
  "config": {"view": {"stroke": null}, "concat": {"spacing": 56}, "axis": {"labelOverlap": false}}
}
